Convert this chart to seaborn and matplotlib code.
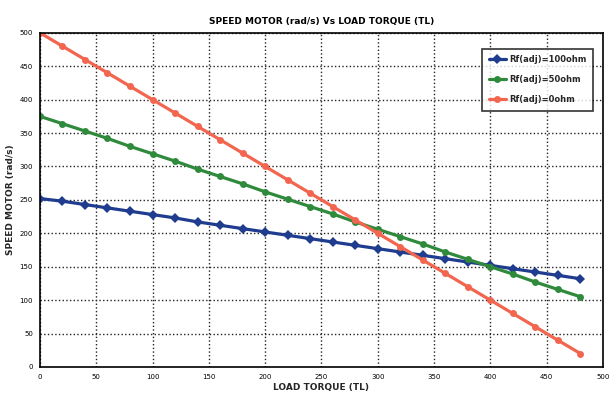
import pandas as pd
import matplotlib.pyplot as plt
import seaborn as sns

# load torque points (TL)
torque = [0, 20, 40, 60, 80, 100, 120, 140, 160, 180, 200, 220, 240,
          260, 280, 300, 320, 340, 360, 380, 400, 420, 440, 460, 480]

# speed (rad/s)
speed_100 = [252, 248, 243, 238, 233, 228, 223, 217, 212, 207, 202, 197, 192,
             187, 182, 177, 172, 167, 162, 157, 152, 147, 142, 137, 132]
speed_50 = [375, 364, 353, 342, 330, 319, 308, 296, 285, 274, 262, 251, 240,
            229, 217, 206, 195, 184, 172, 161, 150, 139, 127, 116, 105]
speed_0 = [500, 480, 460, 440, 420, 400, 380, 360, 340, 320, 300, 280, 260,
           240, 220, 200, 180, 160, 140, 120, 100, 80, 60, 40, 20]

labels = ['Rf(adj)=100ohm', 'Rf(adj)=50ohm', 'Rf(adj)=0ohm']

df = pd.DataFrame({
    'TL': torque * 3,
    'speed': speed_100 + speed_50 + speed_0,
    'case': [labels[0]] * len(torque) + [labels[1]] * len(torque) + [labels[2]] * len(torque),
})

sns.set_style('white')
plt.rcParams['font.family'] = ['DejaVu Sans']

fig = plt.figure(figsize=(6.14, 3.95), dpi=100)
ax = fig.add_axes([0.065, 0.071, 0.917, 0.846])

colors = {labels[0]: '#1f3c8f', labels[1]: '#2f8a3c', labels[2]: '#f2654e'}
markers = {labels[0]: 'D', labels[1]: 'o', labels[2]: 'o'}

sns.lineplot(data=df, x='TL', y='speed', hue='case', style='case',
             palette=colors, markers=markers, dashes=False, linewidth=2.3,
             markersize=5, markeredgewidth=0, ax=ax)

ax.set_xlim(0, 500)
ax.set_ylim(0, 500)
ax.set_xticks(range(0, 501, 50))
ax.set_yticks(range(0, 501, 50))
ax.tick_params(labelsize=5, length=2, pad=3, colors='black')
ax.grid(True, linestyle=':', color='#222222', linewidth=1.0)
for s in ax.spines.values():
    s.set_color('black')
    s.set_linewidth(1.2)

ax.set_title('SPEED MOTOR (rad/s) Vs LOAD TORQUE (TL)', fontsize=6.5,
             fontweight='bold', pad=6, color='black')
ax.set_xlabel('LOAD TORQUE (TL)', fontsize=6.5, fontweight='bold', labelpad=2)
ax.set_ylabel('SPEED MOTOR (rad/s)', fontsize=6.5, fontweight='bold', labelpad=3)

leg = ax.legend(loc='upper right', bbox_to_anchor=(0.99, 0.965), fontsize=6,
                frameon=True, fancybox=False, edgecolor='black',
                handlelength=2.0, borderpad=0.8, labelspacing=1.3,
                handletextpad=0.4)
leg.get_frame().set_linewidth(1.2)
for t in leg.get_texts():
    t.set_fontweight('bold')

fig.savefig('out.png', dpi=100)
